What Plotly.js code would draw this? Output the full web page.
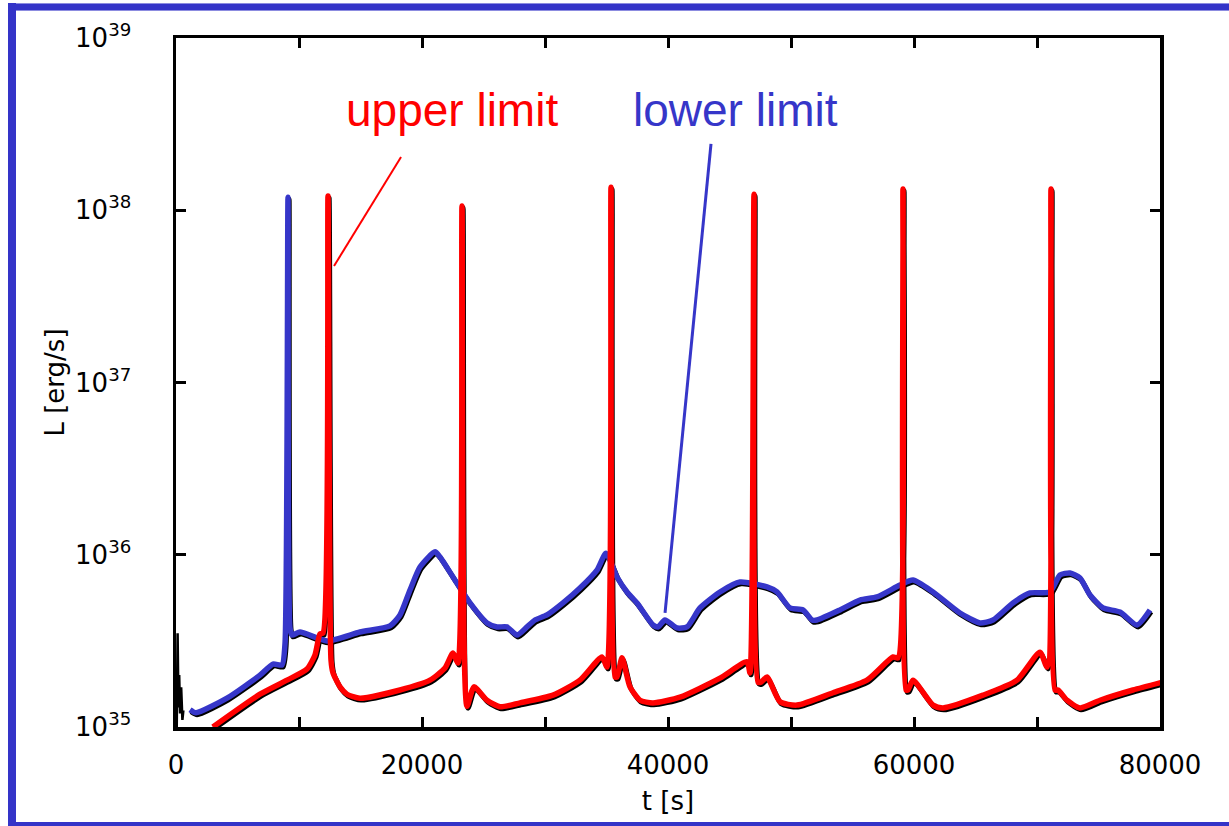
<!DOCTYPE html>
<html><head><meta charset="utf-8">
<script src="https://cdn.plot.ly/plotly-3.0.1.min.js"></script>
<style>
html,body{margin:0;padding:0;background:#fff;}
#wrap{position:relative;width:1229px;height:826px;overflow:hidden;background:#fff;}
#chart{position:absolute;left:0;top:0;width:1229px;height:826px;}
.bar{position:absolute;background:#3434c8;}
</style></head><body>
<div id="wrap"><div id="chart"></div>
<div class="bar" style="left:8px;top:3px;width:1221px;height:8px;border-top:1px solid #8c8ce0;border-bottom:1px solid #8c8ce0;box-sizing:border-box;"></div>
<div class="bar" style="left:8px;top:3px;width:8px;height:823px;"></div>
<div class="bar" style="left:8px;top:822px;width:1221px;height:4px;"></div>
</div>
<script>
// lower limit (blue)
const tLower = [1138,1626,4146,6829,7886,8618,8862,9106,9268,9431,10081,12276,14959,17398,18211,19024,19837,21057,21463,22520,23902,25284,26097,26910,27723,28536,29187,30162,31463,32845,34227,34959,35853,36666,37479,38780,39187,39756,40731,41544,42601,44227,45853,48048,48861,49918,50975,51707,52113,53983,55609,56991,58861,59918,61544,63739,65365,66422,68048,69430,71056,71869,72682,73495,74308,75365,76747,78129,79186];
const LLower = [1.26e35,1.21e35,1.47e35,2.00e35,2.32e35,2.29e35,3.03e35,1.19e38,3.76e35,3.42e35,3.56e35,3.16e35,3.56e35,3.86e35,4.47e35,6.24e35,8.49e35,1.04e36,9.70e35,7.43e35,5.25e35,4.02e35,3.81e35,3.81e35,3.42e35,3.81e35,4.18e35,4.47e35,5.25e35,6.41e35,8.15e35,1.02e36,7.43e35,6.08e35,5.25e35,3.91e35,3.81e35,4.18e35,3.76e35,3.81e35,4.91e35,6.08e35,6.95e35,6.50e35,6.08e35,4.91e35,4.78e35,4.18e35,4.18e35,4.78e35,5.46e35,5.69e35,6.67e35,7.13e35,6.08e35,4.59e35,4.02e35,4.18e35,5.25e35,6.00e35,6.08e35,7.63e35,7.84e35,7.33e35,5.84e35,4.91e35,4.65e35,3.91e35,4.78e35];

// upper limit (red)
const tUpper = [3000,6829,9024,10650,11301,11707,11951,12358,12602,12764,13333,13902,14959,18211,20650,21870,22520,22927,23252,23658,24227,25284,26341,27967,30650,32845,34634,35040,35366,35691,35853,36260,36910,37723,38780,40975,44227,46422,46666,46991,47317,47560,48048,49105,50487,53413,56177,58291,58698,59105,59349,59512,59918,61544,62357,65609,68373,70243,70812,71138,71463,71707,72439,73495,75121,77804,80163];
const LUpper = [1.0e35,1.55e35,1.87e35,2.17e35,2.62e35,3.47e35,3.51e35,1.21e38,2.45e35,2.06e35,1.71e35,1.55e35,1.47e35,1.64e35,1.87e35,2.20e35,2.69e35,2.35e35,1.06e38,1.32e35,1.71e35,1.43e35,1.31e35,1.38e35,1.53e35,1.87e35,2.55e35,2.23e35,1.36e38,1.95e35,1.95e35,2.52e35,1.71e35,1.43e35,1.38e35,1.49e35,1.92e35,2.39e35,2.06e35,1.24e38,1.82e35,1.82e35,1.95e35,1.40e35,1.34e35,1.58e35,1.87e35,2.55e35,2.52e35,1.33e38,1.64e35,1.64e35,1.87e35,1.34e35,1.29e35,1.53e35,1.87e35,2.72e35,2.23e35,1.33e38,1.64e35,1.64e35,1.43e35,1.29e35,1.43e35,1.64e35,1.82e35];

// initial transient (black)
const tStart = [60,130,200,260,330,420,520,600];
const LStart = [1.0e35,3.5e35,1.3e35,2.0e35,1.2e35,1.7e35,1.1e35,1.25e35];

const xTickVals = [0,10000,20000,30000,40000,50000,60000,70000,80000];
const xTickText = ['0','','20000','','40000','','60000','','80000'];
const yTickVals = [1e35,1e36,1e37,1e38,1e39];
const yTickText = ['10<sup>35</sup>','10<sup>36</sup>','10<sup>37</sup>','10<sup>38</sup>','10<sup>39</sup>'];

const RED = '#ff0000', BLUE = '#3636c9';
const tickFont = {family:'DejaVu Sans, sans-serif', size:26, color:'#000'};

// black rendering shadow of the original plot, drawn from the same series
const shadow = (t, L) => ({x:t.map(v => v + 90), y:L.map(v => v * 0.975), mode:'lines',
  line:{color:'#000', width:5, shape:'spline', smoothing:0.6}, hoverinfo:'skip'});

const traces = [
  {x:tStart, y:LStart, mode:'lines', line:{color:'#000', width:2.5}, hoverinfo:'skip'},
  shadow(tLower, LLower),
  shadow(tUpper, LUpper),
  {x:tLower, y:LLower, mode:'lines', line:{color:BLUE, width:5.5, shape:'spline', smoothing:0.6}, name:'lower limit'},
  {x:tUpper, y:LUpper, mode:'lines', line:{color:RED, width:5.5, shape:'spline', smoothing:0.6}, name:'upper limit'}
];

const layout = {
  width:1229, height:826,
  margin:{l:176, r:69, t:38, b:99, pad:0},
  paper_bgcolor:'#fff', plot_bgcolor:'#fff',
  showlegend:false,
  xaxis:{
    range:[0,80000], type:'linear',
    tickvals:xTickVals, ticktext:xTickText,
    ticks:'inside', ticklen:10, tickwidth:3, tickcolor:'#000',
    showline:true, linewidth:3.5, linecolor:'#000', mirror:'ticks',
    showgrid:false, zeroline:false,
    tickfont:tickFont, ticklabelstandoff:12,
    title:{text:'t [s]', font:tickFont, standoff:14}
  },
  yaxis:{
    type:'log', range:[35,39],
    tickvals:yTickVals, ticktext:yTickText,
    ticks:'inside', ticklen:10, tickwidth:3, tickcolor:'#000',
    showline:true, linewidth:3.5, linecolor:'#000', mirror:'ticks',
    showgrid:false, zeroline:false,
    tickfont:tickFont, ticklabelstandoff:36,
    title:{text:'L [erg/s]', font:tickFont, standoff:4}
  },
  annotations:[
    {xref:'paper', yref:'paper', x:0.2805, y:0.8955, xanchor:'center', yanchor:'middle', showarrow:false,
     text:'upper limit', font:{family:'Liberation Sans, Arial, sans-serif', size:46, color:RED}},
    {xref:'paper', yref:'paper', x:0.5691, y:0.8955, xanchor:'center', yanchor:'middle', showarrow:false,
     text:'lower limit', font:{family:'Liberation Sans, Arial, sans-serif', size:46, color:BLUE}}
  ],
  shapes:[
    {type:'line', xref:'paper', yref:'paper', x0:0.2287, y0:0.8273, x1:0.1606, y1:0.6691, line:{color:RED, width:2}},
    {type:'line', xref:'paper', yref:'paper', x0:0.5437, y0:0.8462, x1:0.4970, y1:0.1655, line:{color:BLUE, width:3}}
  ]
};

Plotly.newPlot('chart', traces, layout, {staticPlot:true, displayModeBar:false});
</script>
</body></html>
